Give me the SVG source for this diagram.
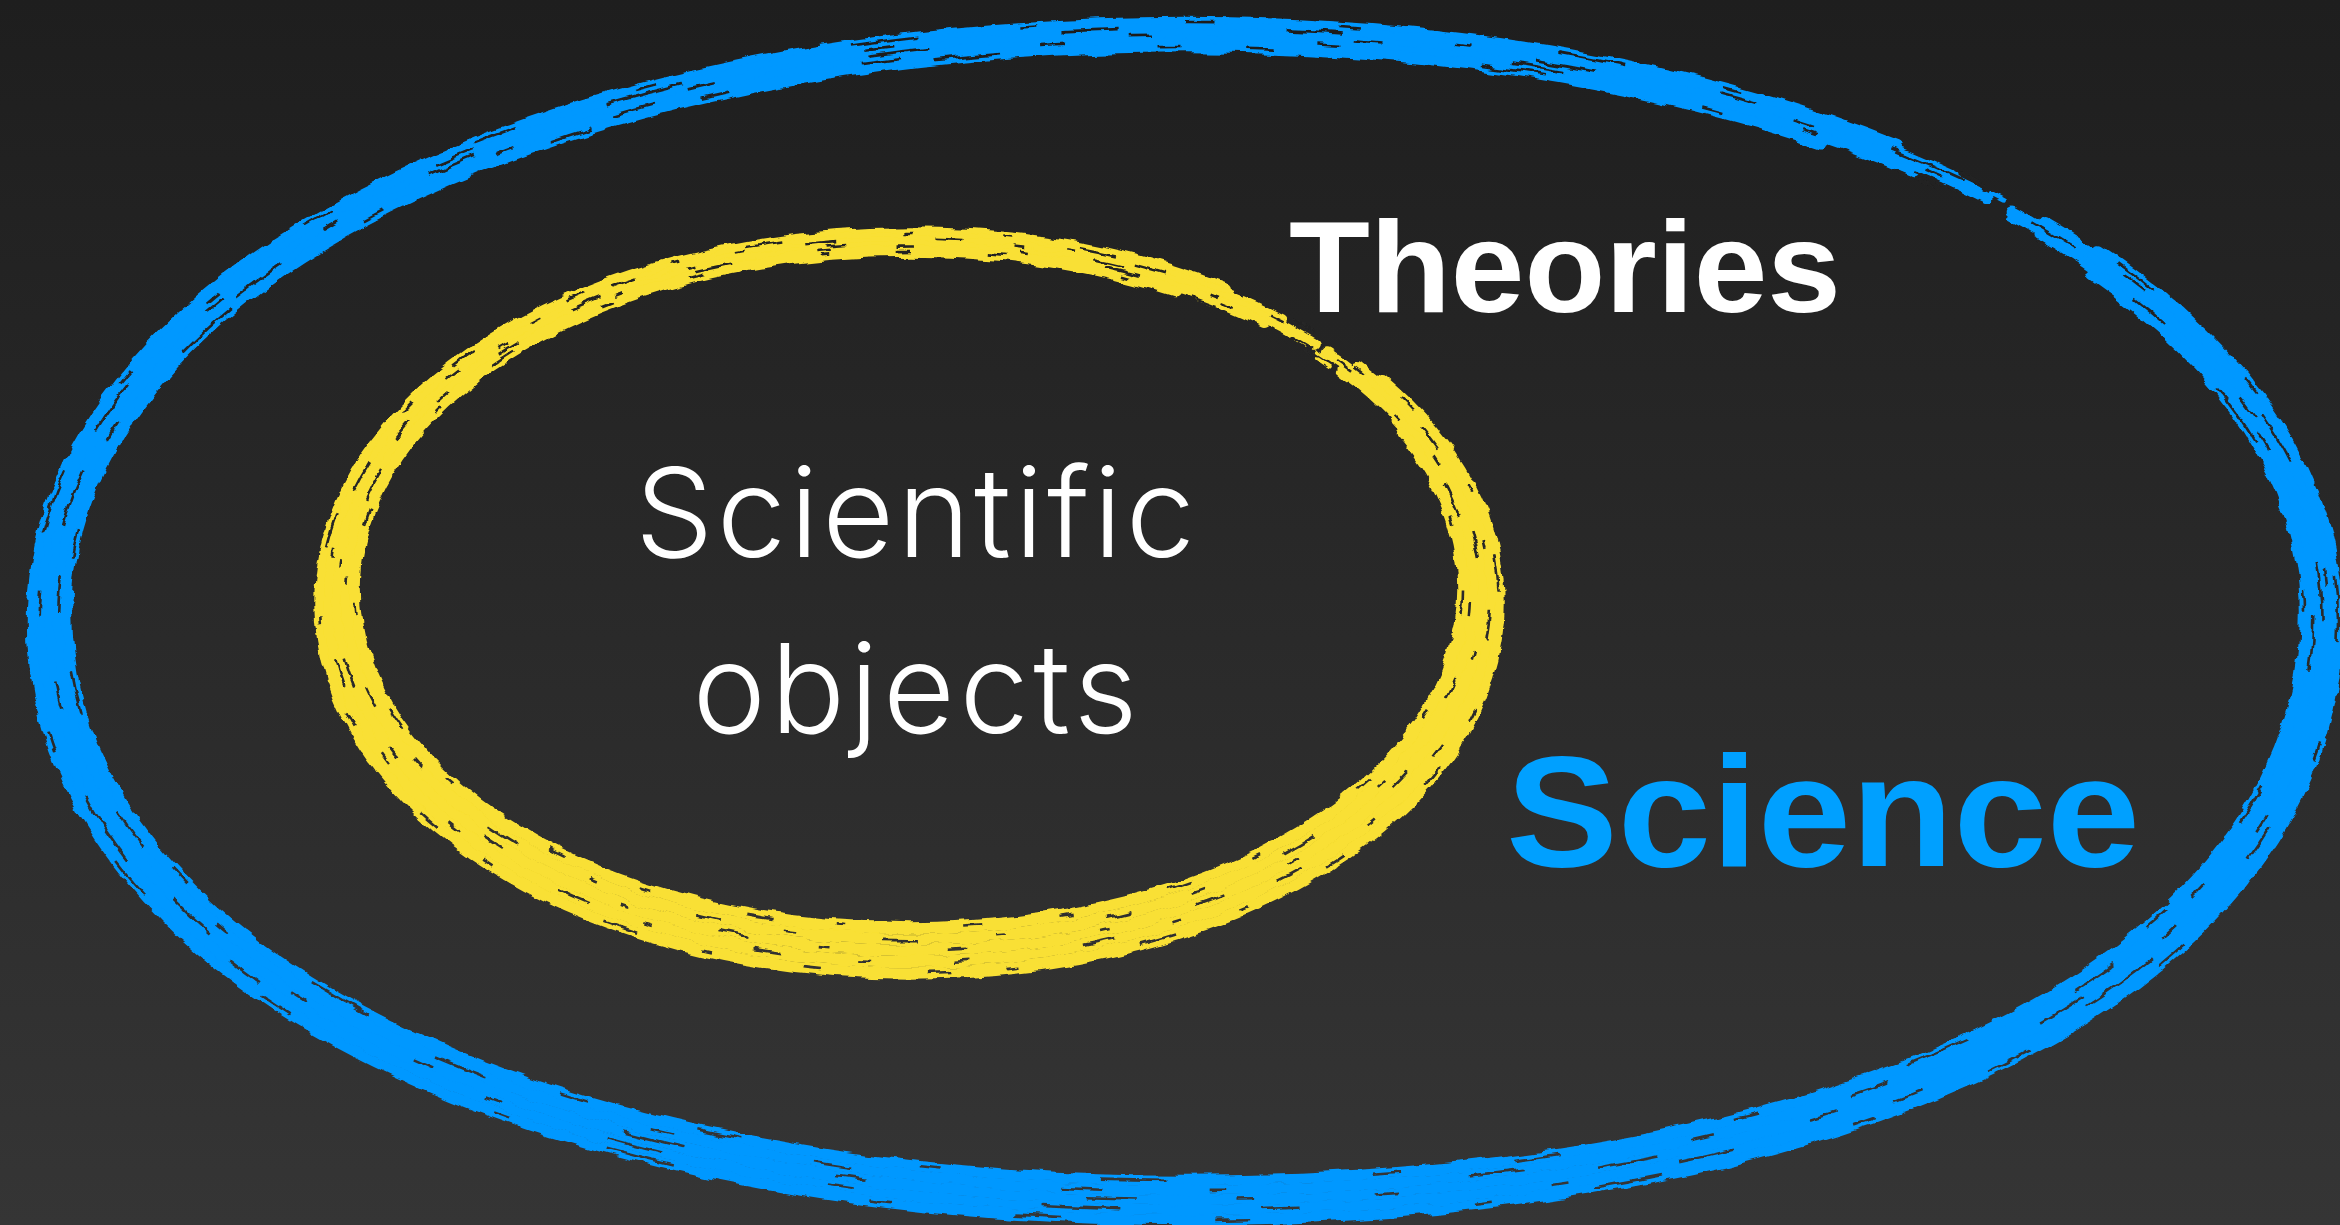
<svg xmlns="http://www.w3.org/2000/svg" xmlns:xlink="http://www.w3.org/1999/xlink" width="2340" height="1225" viewBox="0 0 2340 1225">
<defs>
<linearGradient id="bg" gradientUnits="userSpaceOnUse" x1="0" y1="0" x2="0" y2="1225">
<stop offset="0" stop-color="#1e1e1e"/><stop offset="1" stop-color="#353535"/>
</linearGradient>
<filter id="rough" filterUnits="userSpaceOnUse" x="0" y="0" width="2340" height="1225">
<feTurbulence type="fractalNoise" baseFrequency="0.035 0.06" numOctaves="3" seed="7" result="n"/>
<feDisplacementMap in="SourceGraphic" in2="n" scale="9" xChannelSelector="R" yChannelSelector="G"/>
</filter>
<path id="bl0" pathLength="1000" d="M1185,22 C1836.4,22 2338,282.6 2338,621 C2338,980.4 1876.8,1220 1185,1220 C510.5,1220 32,971.4 32,621 C32,279.6 527.8,22 1185,22 Z"/>
<path id="bl1" pathLength="1000" d="M1185.25,28.25 C1831.85,28.25 2329.75,285.3 2329.75,619.1 C2329.75,973.65 1871.95,1210 1185.25,1210 C515.7,1210 40.75,964.8 40.75,619.1 C40.75,282.35 532.9,28.25 1185.25,28.25 Z"/>
<path id="bl2" pathLength="1000" d="M1185.5,34.5 C1827.3,34.5 2321.5,288 2321.5,617.25 C2321.5,966.9 1867.1,1200 1185.5,1200 C520.95,1200 49.5,958.15 49.5,617.25 C49.5,285.1 538,34.5 1185.5,34.5 Z"/>
<path id="bl3" pathLength="1000" d="M1185.75,40.75 C1822.75,40.75 2313.25,290.7 2313.25,615.4 C2313.25,960.15 1862.25,1190 1185.75,1190 C526.2,1190 58.25,951.5 58.25,615.4 C58.25,287.85 543.1,40.75 1185.75,40.75 Z"/>
<path id="bl4" pathLength="1000" d="M1186,47 C1818.2,47 2305,293.4 2305,613.5 C2305,953.4 1857.4,1180 1186,1180 C531.4,1180 67,944.9 67,613.5 C67,290.6 548.2,47 1186,47 Z"/>
<path id="yl0" pathLength="1000" d="M909.5,233 C1239.6,233 1499,395.8 1499,603 C1499,810.2 1239.6,973 909.5,973 C579.4,973 320,810.2 320,603 C320,395.8 579.4,233 909.5,233 Z"/>
<path id="yl1" pathLength="1000" d="M909.4,237.5 C1234.5,237.5 1490,396.8 1490,599.6 C1490,802.4 1234.5,961.75 909.4,961.75 C584.25,961.75 328.75,802.4 328.75,599.6 C328.75,396.8 584.25,237.5 909.4,237.5 Z"/>
<path id="yl2" pathLength="1000" d="M909.25,242 C1229.4,242 1481,397.85 1481,596.25 C1481,794.65 1229.4,950.5 909.25,950.5 C589.1,950.5 337.5,794.65 337.5,596.25 C337.5,397.85 589.1,242 909.25,242 Z"/>
<path id="yl3" pathLength="1000" d="M909.1,246.5 C1224.3,246.5 1472,398.9 1472,592.9 C1472,786.9 1224.3,939.25 909.1,939.25 C593.95,939.25 346.25,786.9 346.25,592.9 C346.25,398.9 593.95,246.5 909.1,246.5 Z"/>
<path id="yl4" pathLength="1000" d="M909,251 C1219.2,251 1463,399.9 1463,589.5 C1463,779.1 1219.2,928 909,928 C598.8,928 355,779.1 355,589.5 C355,399.9 598.8,251 909,251 Z"/>
</defs>
<style>
.blue{fill:none;stroke:#0098ff;stroke-linecap:round;stroke-width:10.5}
.yel{fill:none;stroke:#f9e034;stroke-linecap:round;stroke-width:11.5}
.frag{stroke-width:4}
.scr{fill:none;stroke:url(#bg);stroke-width:2.6}
.bold{font-family:'Liberation Sans',Arial,sans-serif;font-weight:700}
.light{font-family:Inter,Roboto,'Open Sans','Liberation Sans',sans-serif;font-weight:300;fill:#ffffff;text-anchor:middle}
</style>
<rect x="0" y="0" width="2340" height="1225" fill="url(#bg)"/>

<g id="node-science">
<g id="science-ring" filter="url(#rough)">
<use href="#bl0" class="blue" stroke-dasharray="128 40 1000"/>
<use href="#bl1" class="blue" stroke-dasharray="140 18 1000"/>
<use href="#bl2" class="blue" stroke-dasharray="148 5 1000"/>
<use href="#bl3" class="blue" stroke-dasharray="135 25 1000"/>
<use href="#bl4" class="blue" stroke-dasharray="118 55 1000"/>
<use href="#bl3" class="blue frag" stroke-dasharray="0 154 7 4 5 3 3 1000"/>
<use href="#bl1" class="blue frag" stroke-dasharray="0 141 4 2 3 1000"/>
<use href="#bl0" class="scr" stroke-dasharray="8 22 4 35 12 18 3 40 6 27" stroke-dashoffset="3"/>
<use href="#bl1" class="scr" stroke-dasharray="5 30 10 20 3 45 7 25 14 33" stroke-dashoffset="17"/>
<use href="#bl2" class="scr" stroke-dasharray="3 18 9 40 5 28 11 36 4 22" stroke-dashoffset="40"/>
<use href="#bl3" class="scr" stroke-dasharray="7 26 4 31 10 44 3 19 8 38" stroke-dashoffset="9"/>
<use href="#bl4" class="scr" stroke-dasharray="4 33 8 21 5 38 12 29" stroke-dashoffset="55"/>
</g>
<text x="1506" y="866" font-size="158" textLength="634" lengthAdjust="spacingAndGlyphs" class="bold" fill="#00a0ff">Science</text>
</g>

<g id="node-theories">
<text x="1289" y="312" font-size="130" textLength="552" lengthAdjust="spacingAndGlyphs" class="bold" fill="#ffffff">Theories</text>
</g>

<g id="node-objects">
<g id="objects-ring" filter="url(#rough)">
<use href="#yl0" class="yel" stroke-dasharray="105 60 1000"/>
<use href="#yl1" class="yel" stroke-dasharray="128 30 1000"/>
<use href="#yl2" class="yel" stroke-dasharray="143 5 1000"/>
<use href="#yl3" class="yel" stroke-dasharray="126 32 1000"/>
<use href="#yl4" class="yel" stroke-dasharray="95 95 1000"/>
<use href="#yl3" class="yel frag" stroke-dasharray="0 131 5 3 4 4 3 1000"/>
<use href="#yl4" class="yel frag" stroke-dasharray="0 150 5 4 4 1000"/>
<use href="#yl0" class="scr" stroke-dasharray="6 30 3 22 12 40 4 18 8 35" stroke-dashoffset="5"/>
<use href="#yl1" class="scr" stroke-dasharray="4 26 9 34 3 20 11 38 5 28" stroke-dashoffset="21"/>
<use href="#yl2" class="scr" stroke-dasharray="7 40 4 24 10 31 3 45" stroke-dashoffset="12"/>
<use href="#yl3" class="scr" stroke-dasharray="5 22 8 36 3 27 12 30" stroke-dashoffset="33"/>
<use href="#yl4" class="scr" stroke-dasharray="9 35 4 28 6 41 3 23" stroke-dashoffset="48"/>
</g>
<text x="915" y="557" font-size="124" textLength="560" class="light">Scientific</text>
<text x="915" y="733" font-size="124" textLength="445" class="light">objects</text>
</g>

<g id="connectors"/>
</svg>
